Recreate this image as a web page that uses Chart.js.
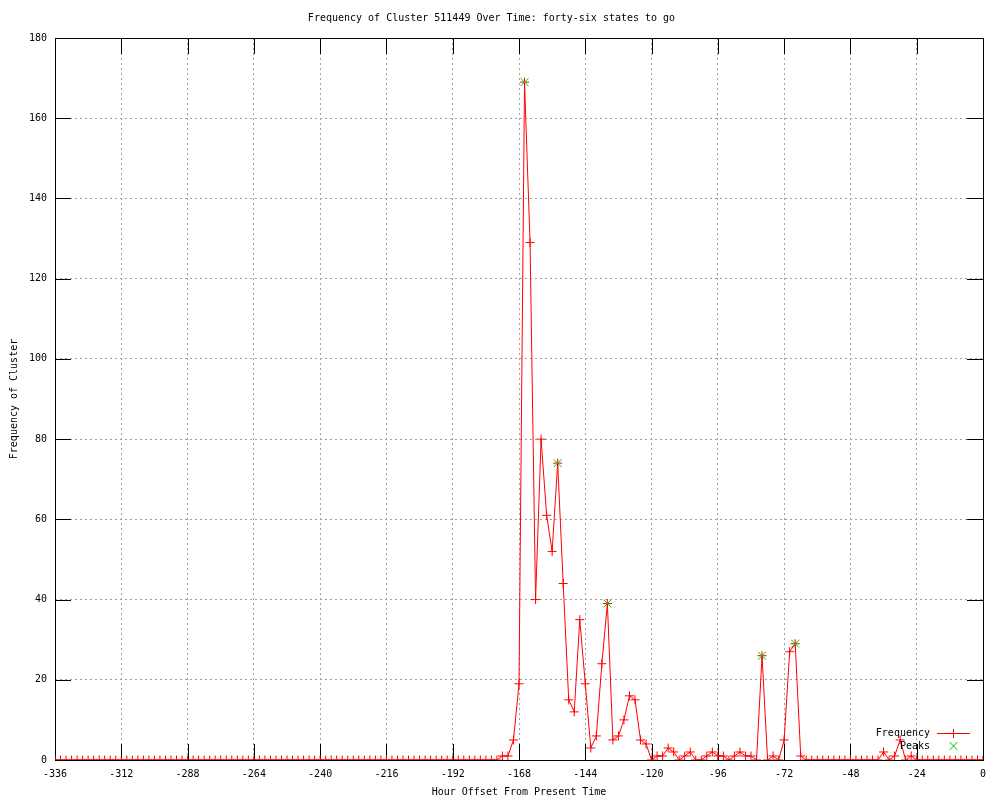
<!DOCTYPE html>
<html>
<head>
<meta charset="utf-8">
<script src="https://cdn.jsdelivr.net/npm/chart.js@4/dist/chart.umd.min.js"></script>
<style>
  html, body { margin: 0; padding: 0; background: #fff; }
  #wrap { width: 1000px; height: 800px; }
</style>
</head>
<body>
<div id="wrap"><canvas id="myChart" width="1000" height="800"></canvas></div>
<script>
// hours go from -336 to 0, one sample every 2 hours
var hourStart = -336;
var hourStep = 2;

// cluster frequency, 12 samples (24 h) per line
var frequency = [
  0, 0, 0, 0, 0, 0, 0, 0, 0, 0, 0, 0,        // -336 .. -314
  0, 0, 0, 0, 0, 0, 0, 0, 0, 0, 0, 0,        // -312 .. -290
  0, 0, 0, 0, 0, 0, 0, 0, 0, 0, 0, 0,        // -288 .. -266
  0, 0, 0, 0, 0, 0, 0, 0, 0, 0, 0, 0,        // -264 .. -242
  0, 0, 0, 0, 0, 0, 0, 0, 0, 0, 0, 0,        // -240 .. -218
  0, 0, 0, 0, 0, 0, 0, 0, 0, 0, 0, 0,        // -216 .. -194
  0, 0, 0, 0, 0, 0, 0, 0, 0, 1, 1, 5,        // -192 .. -170
  19, 169, 129, 40, 80, 61, 52, 74, 44, 15, 12, 35, // -168 .. -146
  19, 3, 6, 24, 39, 5, 6, 10, 16, 15, 5, 4,  // -144 .. -122
  0, 1, 1, 3, 2, 0, 1, 2, 0, 0, 1, 2,        // -120 .. -98
  1, 1, 0, 1, 2, 1, 1, 0, 26, 0, 1, 0,       // -96 .. -74
  5, 27, 29, 1, 0, 0, 0, 0, 0, 0, 0, 0,      // -72 .. -50
  0, 0, 0, 0, 0, 0, 2, 0, 1, 5, 0, 1,        // -48 .. -26
  0, 0, 0, 0, 0, 0, 0, 0, 0, 0, 0, 0,        // -24 .. -2
  0                                          // 0
];

var peakHours = [-166, -154, -136, -80, -68];
var peakValues = [169, 74, 39, 26, 29];

var xTicks = [-336, -312, -288, -264, -240, -216, -192, -168, -144, -120, -96, -72, -48, -24, 0];
var yTicks = [0, 20, 40, 60, 80, 100, 120, 140, 160, 180];

var freqPoints = [];
for (var i = 0; i < frequency.length; i++) {
  freqPoints.push({ x: hourStart + i * hourStep, y: frequency[i] });
}
var peakPoints = [];
for (var j = 0; j < peakHours.length; j++) {
  peakPoints.push({ x: peakHours[j], y: peakValues[j] });
}

Chart.defaults.font.family = '"DejaVu Sans Mono", monospace';
Chart.defaults.font.size = 10;
Chart.defaults.color = '#000';

// gnuplot style: inward ticks on all four sides, full border, key in the corner
var gnuplotLook = {
  id: 'gnuplotLook',
  beforeDatasetsDraw: function (chart) {
    var ctx = chart.ctx;
    var a = chart.chartArea;
    var xs = chart.scales.x, ys = chart.scales.y;
    var len = 16;
    ctx.save();
    ctx.strokeStyle = '#000';
    ctx.lineWidth = 1;
    ctx.beginPath();
    xTicks.forEach(function (t) {
      var px = Math.round(xs.getPixelForValue(t)) + 0.5;
      ctx.moveTo(px, a.bottom); ctx.lineTo(px, a.bottom - len);
      ctx.moveTo(px, a.top); ctx.lineTo(px, a.top + len);
    });
    yTicks.forEach(function (t) {
      var py = Math.round(ys.getPixelForValue(t)) + 0.5;
      ctx.moveTo(a.left, py); ctx.lineTo(a.left + len, py);
      ctx.moveTo(a.right, py); ctx.lineTo(a.right - len, py);
    });
    ctx.stroke();
    ctx.strokeRect(Math.round(a.left) + 0.5, Math.round(a.top) + 0.5,
      Math.round(a.right - a.left), Math.round(a.bottom - a.top));
    ctx.restore();
  },
  afterDraw: function (chart) {
    var ctx = chart.ctx;
    ctx.save();
    ctx.font = '10px "DejaVu Sans Mono", monospace';
    ctx.fillStyle = '#000';
    ctx.textAlign = 'right';
    ctx.textBaseline = 'middle';
    ctx.fillText('Frequency', 930, 733);
    ctx.fillText('Peaks', 930, 746);
    ctx.strokeStyle = '#ff0000';
    ctx.lineWidth = 1;
    ctx.beginPath();
    ctx.moveTo(937, 733.5); ctx.lineTo(970, 733.5);
    ctx.moveTo(953.5, 729); ctx.lineTo(953.5, 738);
    ctx.stroke();
    ctx.strokeStyle = '#00c000';
    ctx.beginPath();
    ctx.moveTo(949.5, 742); ctx.lineTo(957.5, 750);
    ctx.moveTo(957.5, 742); ctx.lineTo(949.5, 750);
    ctx.stroke();
    ctx.restore();
  }
};

const config = {
  type: 'scatter',
  data: {
    datasets: [
      {
        label: 'Frequency',
        data: freqPoints,
        showLine: true,
        borderColor: '#ff0000',
        backgroundColor: '#ff0000',
        borderWidth: 1,
        tension: 0,
        pointStyle: 'cross',
        pointRadius: 4.5,
        pointBorderWidth: 1,
        pointBorderColor: '#ff0000',
        order: 2
      },
      {
        label: 'Peaks',
        data: peakPoints,
        showLine: false,
        borderColor: '#00c000',
        backgroundColor: '#00c000',
        pointStyle: 'crossRot',
        pointRadius: 5.5,
        pointBorderWidth: 1,
        pointBorderColor: '#00c000',
        order: 1
      }
    ]
  },
  options: {
    responsive: false,
    animation: false,
    layout: { padding: { left: 0, right: 17, top: 0, bottom: 0 } },
    plugins: {
      legend: { display: false },
      tooltip: { enabled: false },
      title: {
        display: true,
        text: 'Frequency of Cluster 511449 Over Time: forty-six states to go',
        font: { size: 10, weight: 'normal' },
        color: '#000',
        padding: { top: 12, bottom: 14 }
      }
    },
    scales: {
      x: {
        type: 'linear',
        min: -336,
        max: 0,
        afterBuildTicks: function (s) { s.ticks = xTicks.map(function (v) { return { value: v }; }); },
        afterFit: function (s) { s.height = 40; },
        ticks: { padding: 8, maxRotation: 0, autoSkip: false },
        grid: { color: '#a0a0a0', lineWidth: 1, drawTicks: false },
        border: { display: false, dash: [2, 3] },
        title: { display: true, text: 'Hour Offset From Present Time', padding: { top: 4, bottom: 2 } }
      },
      y: {
        min: 0,
        max: 180,
        afterBuildTicks: function (s) { s.ticks = yTicks.map(function (v) { return { value: v }; }); },
        afterFit: function (s) { s.width = 55; },
        ticks: { padding: 8 },
        grid: { color: '#a0a0a0', lineWidth: 1, drawTicks: false },
        border: { display: false, dash: [2, 3] },
        title: { display: true, text: 'Frequency of Cluster', padding: { top: 8, bottom: 4 } }
      }
    }
  },
  plugins: [gnuplotLook]
};

const myChart = new Chart(document.getElementById('myChart'), config);
</script>
</body>
</html>
